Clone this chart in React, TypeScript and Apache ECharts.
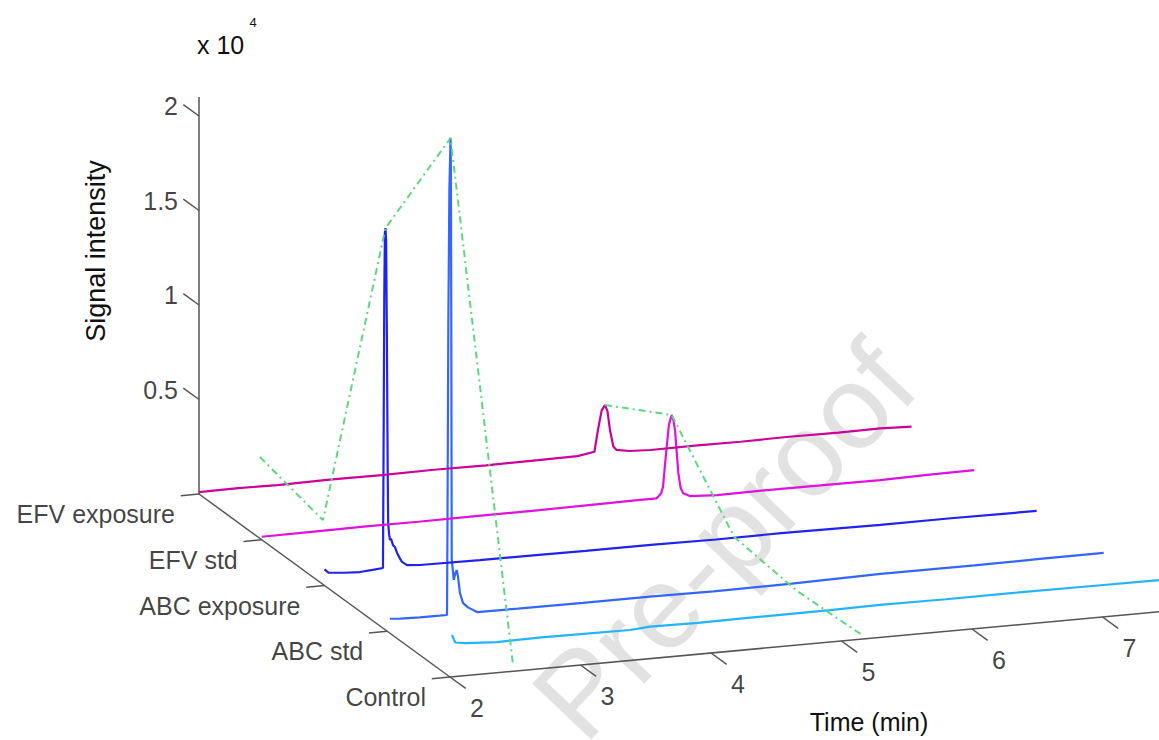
import React, { useEffect, useRef } from "react";
import * as echarts from "echarts";

// ---------- data ----------
const SAMPLES = ["EFV exposure", "EFV std", "ABC exposure", "ABC std", "Control"];
const TIME_TICKS = [2, 3, 4, 5, 6, 7];
const Z_TICKS = [0.5, 1, 1.5, 2];
const Z_TICK_LABELS = ["0.5", "1", "1.5", "2"];
const TIME_MIN = 2;
const TIME_MAX = 7.5;
const Z_MAX = 2.1;

// [time (min), signal intensity (x10^4)]
const efvExposure = [
  [2.0, 0.01], [2.3, 0.012], [2.6, 0.009], [3.0, 0.013], [3.4, 0.011], [3.8, 0.014],
  [4.2, 0.012], [4.6, 0.014], [4.9, 0.016], [5.03, 0.031], [5.057, 0.144], [5.086, 0.248],
  [5.111, 0.273], [5.13, 0.24], [5.149, 0.139], [5.175, 0.05], [5.2, 0.03], [5.3, 0.018],
  [5.46, 0.013], [5.8, 0.015], [6.15, 0.013], [6.5, 0.016], [6.9, 0.014], [7.22, 0.016], [7.46, 0.01],
];
const efvStd = [
  [2.0, 0.016], [2.4, 0.018], [2.8, 0.02], [3.2, 0.019], [3.6, 0.021], [4.13, 0.022],
  [4.6, 0.025], [4.9, 0.027], [5.026, 0.027], [5.06, 0.05], [5.075, 0.086], [5.09, 0.2],
  [5.103, 0.295], [5.12, 0.41], [5.141, 0.461], [5.155, 0.43], [5.167, 0.379], [5.18, 0.26],
  [5.192, 0.151], [5.21, 0.07], [5.23, 0.041], [5.28, 0.023], [5.49, 0.015], [6.0, 0.017],
  [6.74, 0.015], [7.1, 0.019], [7.46, 0.022],
];
const abcExposure = [
  [2.0, 0.085], [2.03, 0.066], [2.15, 0.058], [2.272, 0.054], [2.38, 0.06], [2.448, 0.064],
  [2.452, 0.6], [2.458, 1.5], [2.463, 1.84], [2.467, 1.861], [2.472, 1.8], [2.478, 1.3],
  [2.484, 0.6], [2.488, 0.3], [2.495, 0.24], [2.502, 0.209], [2.51, 0.215], [2.525, 0.18],
  [2.54, 0.169], [2.556, 0.137], [2.575, 0.11], [2.594, 0.087], [2.632, 0.068], [2.732, 0.062],
  [3.19, 0.059], [3.6, 0.058], [4.0, 0.056], [4.5, 0.056], [5.0, 0.053], [5.5, 0.055],
  [6.26, 0.05], [6.8, 0.051], [7.2, 0.049], [7.457, 0.048],
];
const abcStd = [
  [2.02, 0.065], [2.1, 0.06], [2.25, 0.058], [2.4, 0.057], [2.458, 0.057], [2.462, 0.6],
  [2.468, 1.6], [2.476, 2.3], [2.485, 2.58], [2.488, 2.4], [2.491, 1.5], [2.494, 0.35],
  [2.51, 0.24], [2.52, 0.27], [2.532, 0.29], [2.542, 0.256], [2.557, 0.167], [2.58, 0.113],
  [2.618, 0.087], [2.688, 0.058], [3.0, 0.056], [3.5, 0.055], [4.013, 0.055], [4.5, 0.052],
  [5.1, 0.055], [5.78, 0.064], [6.5, 0.063], [7.0, 0.065], [7.49, 0.066],
];
const control = [
  [2.015, 0.221], [2.04, 0.18], [2.115, 0.172], [2.36, 0.162], [2.7, 0.165], [3.0, 0.163],
  [3.379, 0.161], [3.533, 0.169], [3.9, 0.166], [4.3, 0.168], [4.912, 0.169], [5.295, 0.172],
  [5.8, 0.17], [6.3, 0.171], [6.9, 0.169], [7.433, 0.168], [7.55, 0.168],
];
const TRACES = [efvExposure, efvStd, abcExposure, abcStd, control];
const TRACE_COLORS = ["#cc0099", "#e010e0", "#2222ee", "#3366ff", "#22b4ff"];

// apex lines (one point per sample, back to front): [time, intensity]
const abcApex = [[2.467, 0.166], [2.469, 0.074], [2.467, 1.861], [2.485, 2.579], [2.483, 0.033]];
const efvApex = [[5.111, 0.273], [5.141, 0.461], [5.14, 0.057], [5.14, 0.014], [5.155, 0.023]];

// ---------- projection (3-D -> page plane) ----------
const X0 = 199, Y0 = 494;
const TX = 130.5, TY = -12;
const DX = 62.75, DY = 45.75;
const ZY = -189;
function proj(t: number, d: number, z: number): number[] {
  return [X0 + (t - 2) * TX + d * DX, Y0 + (t - 2) * TY + d * DY + z * ZY];
}

const FONT = '"Liberation Sans", Arial, Helvetica, sans-serif';
const AXIS_COLOR = "#555555";
const TEXT_COLOR = "#111111";
const FS = 25;

export default function App() {
  const ref = useRef<HTMLDivElement>(null);
  useEffect(() => {
    if (!ref.current) return;
    const chart = echarts.init(ref.current, undefined, { renderer: "svg" });
    const front = SAMPLES.length - 1;

    const axisSegments: number[][][] = [];
    axisSegments.push([proj(TIME_MIN, 0, 0), proj(TIME_MIN, 0, Z_MAX)]);
    axisSegments.push([proj(TIME_MIN, 0, 0), proj(TIME_MIN, front, 0)]);
    axisSegments.push([proj(TIME_MIN, front, 0), proj(TIME_MAX, front, 0)]);
    Z_TICKS.forEach((v) => axisSegments.push([proj(TIME_MIN, 0, v), proj(TIME_MIN, -0.25, v)]));
    TIME_TICKS.forEach((t) => axisSegments.push([proj(t, front, 0), proj(t, front + 0.25, 0)]));
    SAMPLES.forEach((_, d) => axisSegments.push([proj(TIME_MIN, d, 0), proj(TIME_MIN - 0.14, d, 0)]));

    const labelStyle = (align: string, offset: number[]) => ({
      show: true,
      position: "inside",
      formatter: "{b}",
      align,
      verticalAlign: "middle",
      offset,
      color: TEXT_COLOR,
      fontFamily: FONT,
      fontSize: FS,
    });

    const traceSeries = TRACES.map((tr, d) => ({
      type: "line",
      name: SAMPLES[d],
      data: tr.map(([t, z]) => proj(t, d, z)),
      showSymbol: false,
      symbol: "none",
      smooth: false,
      lineStyle: { color: TRACE_COLORS[d], width: 2.2 },
      z: 3,
      silent: true,
    }));
    // draw front first so back traces overlay, as in the original
    traceSeries.reverse();

    const apexSeries = [abcApex, efvApex].map((ap) => ({
      type: "line",
      data: ap.map(([t, z], d) => proj(t, d, z)),
      showSymbol: false,
      symbol: "none",
      lineStyle: { color: "#5fd77e", width: 2, type: [7, 4, 2, 4] },
      z: 4,
      silent: true,
    }));

    chart.setOption({
      animation: false,
      grid: { left: 0, right: 0, top: 0, bottom: 0, containLabel: false },
      xAxis: { type: "value", min: 0, max: 1159, show: false },
      yAxis: { type: "value", min: 0, max: 740, inverse: true, show: false },
      graphic: [
        {
          type: "text",
          x: 724,
          y: 540,
          rotation: (46.5 * Math.PI) / 180,
          z: 0,
          silent: true,
          style: {
            text: "Pre-proof",
            font: `118px ${FONT}`,
            fill: "#e2e2e2",
            align: "center",
            verticalAlign: "middle",
          },
        },
        {
          type: "text",
          x: 96,
          y: 251,
          rotation: Math.PI / 2,
          style: {
            text: "Signal intensity",
            font: `27px ${FONT}`,
            fill: TEXT_COLOR,
            align: "center",
            verticalAlign: "middle",
          },
        },
        {
          type: "text",
          x: 869,
          y: 722,
          style: {
            text: "Time (min)",
            font: `${FS}px ${FONT}`,
            fill: TEXT_COLOR,
            align: "center",
            verticalAlign: "middle",
          },
        },
        {
          type: "text",
          x: 197,
          y: 45,
          style: {
            text: "x 10",
            font: `${FS}px ${FONT}`,
            fill: TEXT_COLOR,
            align: "left",
            verticalAlign: "middle",
          },
        },
        {
          type: "text",
          x: 253,
          y: 22,
          style: {
            text: "4",
            font: `13px ${FONT}`,
            fill: TEXT_COLOR,
            align: "center",
            verticalAlign: "middle",
          },
        },
      ],
      series: [
        {
          type: "lines",
          coordinateSystem: "cartesian2d",
          data: axisSegments.map((c) => ({ coords: c })),
          lineStyle: { color: AXIS_COLOR, width: 1.5, opacity: 1 },
          z: 2,
          silent: true,
        },
        ...traceSeries,
        ...apexSeries,
        {
          type: "scatter",
          symbolSize: 0.1,
          itemStyle: { color: "rgba(0,0,0,0)" },
          data: TIME_TICKS.map((t) => ({ name: String(t), value: proj(t, front, 0) })),
          label: labelStyle("center", [27, 31]),
          z: 5,
          silent: true,
        },
        {
          type: "scatter",
          symbolSize: 0.1,
          itemStyle: { color: "rgba(0,0,0,0)" },
          data: Z_TICKS.map((v, i) => ({ name: Z_TICK_LABELS[i], value: proj(TIME_MIN, 0, v) })),
          label: labelStyle("right", [-21, -10]),
          z: 5,
          silent: true,
        },
        {
          type: "scatter",
          symbolSize: 0.1,
          itemStyle: { color: "rgba(0,0,0,0)" },
          data: SAMPLES.map((s, d) => ({ name: s, value: proj(TIME_MIN, d, 0) })),
          label: labelStyle("right", [-24, 20]),
          z: 5,
          silent: true,
        },
      ],
    });
    return () => chart.dispose();
  }, []);

  return (
    <div
      ref={ref}
      style={{ position: "fixed", left: 0, top: 0, width: 1159, height: 740, background: "#ffffff" }}
    />
  );
}
